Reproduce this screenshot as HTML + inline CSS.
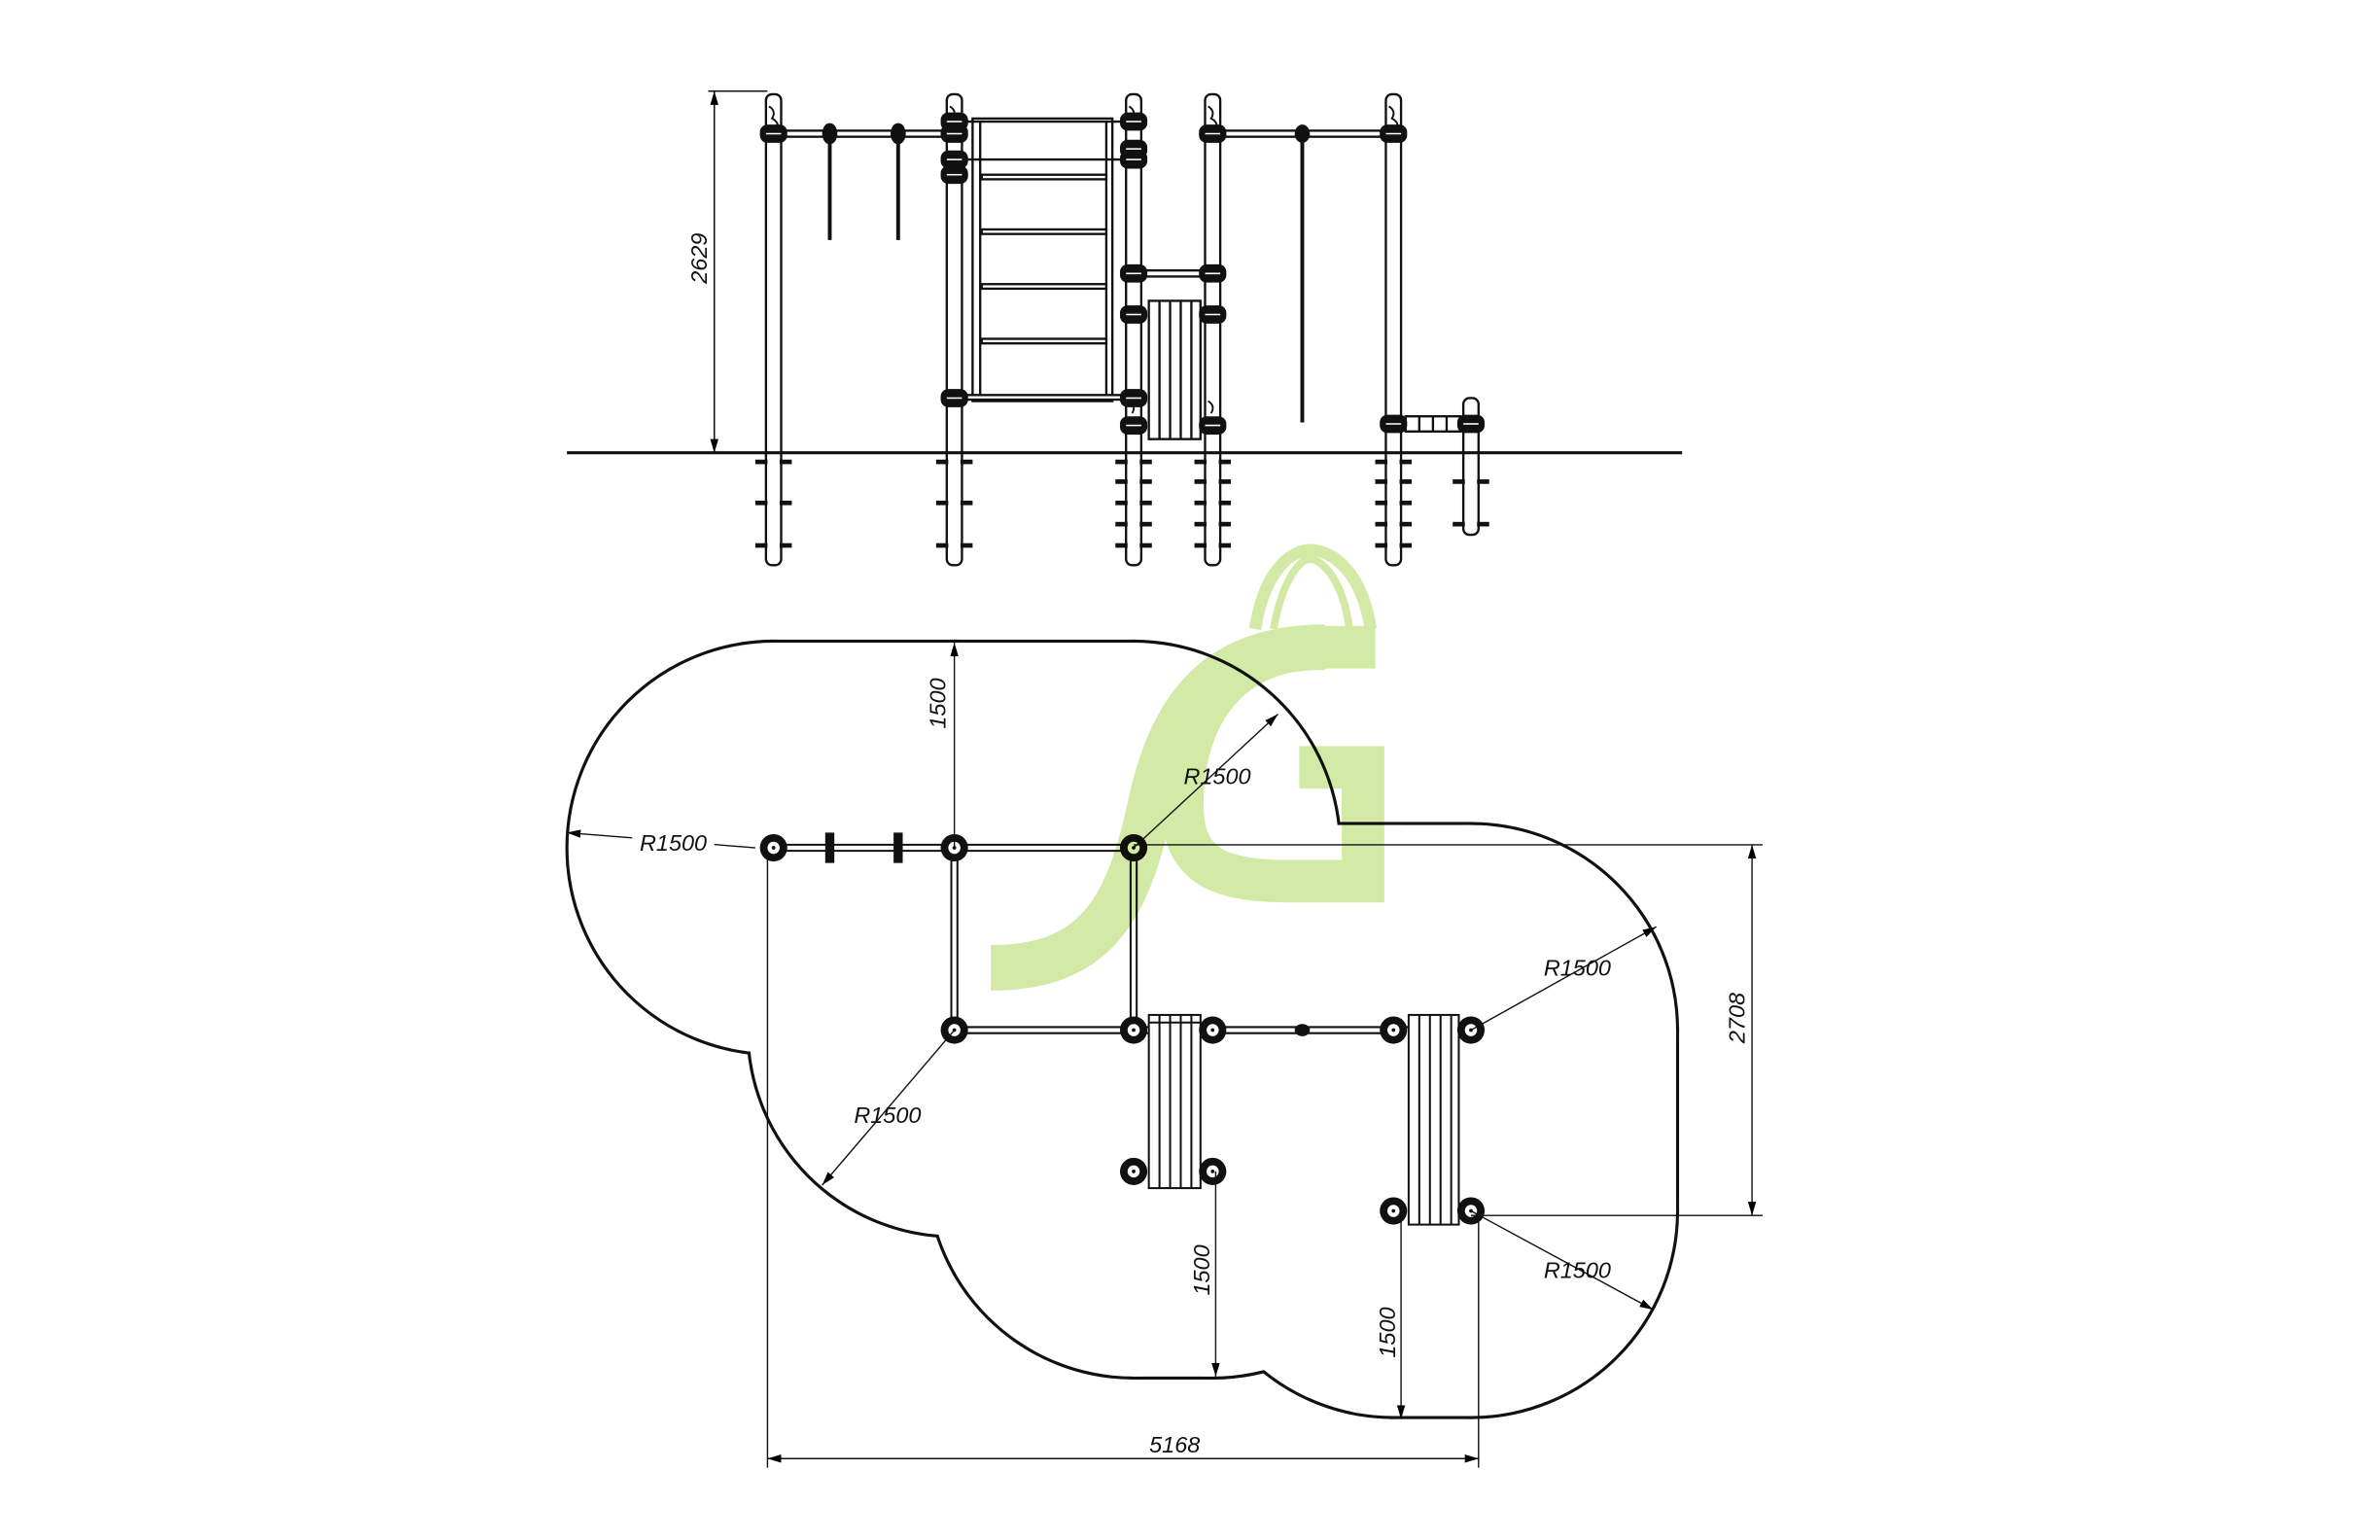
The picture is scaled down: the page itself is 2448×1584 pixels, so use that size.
<!DOCTYPE html>
<html><head><meta charset="utf-8"><style>
html,body{margin:0;padding:0;background:#fff;}
svg{display:block;}
text{font-family:"Liberation Sans",sans-serif;font-style:italic;font-size:15px;fill:#111;}
</style></head><body>
<svg width="2448" height="1584" viewBox="0 0 1556 1007" xmlns="http://www.w3.org/2000/svg">
<defs>
<marker id="ar" viewBox="0 0 10 10" refX="10" refY="5" markerWidth="9" markerHeight="9" orient="auto-start-reverse" markerUnits="userSpaceOnUse"><path d="M0,2 L10,5 L0,8 z" fill="#000"/></marker>
<g id="clamp"><rect x="-9" y="-6" width="18" height="12" rx="5" fill="#111"/><line x1="-5" y1="0" x2="5" y2="0" stroke="#fff" stroke-width="1"/></g>
<g id="pc"><circle r="9" fill="#111"/><circle r="4" fill="#fff"/><circle r="1.2" fill="#111"/></g>
<g id="anch"><line x1="-12" y1="0" x2="-4" y2="0" stroke="#111" stroke-width="3"/><line x1="4" y1="0" x2="12" y2="0" stroke="#111" stroke-width="3"/></g>
</defs>
<rect width="1556" height="1007" fill="#fff"/>
<g transform="scale(0.9935)">

<g stroke="#111" stroke-width="1.5" fill="#fff">
<rect x="640" y="78" width="92" height="186" fill="none"/>
<line x1="645" y1="80" x2="645" y2="262"/><line x1="728" y1="80" x2="728" y2="262"/>
<line x1="634" y1="80" x2="740" y2="80"/><line x1="634" y1="105" x2="740" y2="105"/>
<rect x="646" y="115" width="82" height="3"/><rect x="646" y="151" width="82" height="3"/><rect x="646" y="187" width="82" height="3"/><rect x="646" y="223" width="82" height="3"/><rect x="634" y="260" width="106" height="3"/>
<rect x="509" y="86" width="119" height="4"/><rect x="798" y="86" width="119" height="4"/>
<rect x="746" y="178" width="52" height="4"/>
<rect x="756" y="198" width="34" height="91"/>
<line x1="763" y1="198" x2="763" y2="289"/><line x1="770" y1="198" x2="770" y2="289"/><line x1="777" y1="198" x2="777" y2="289"/><line x1="784" y1="198" x2="784" y2="289"/>
<rect x="925" y="274" width="36" height="10"/><line x1="934" y1="274" x2="934" y2="284"/><line x1="943" y1="274" x2="943" y2="284"/><line x1="952" y1="274" x2="952" y2="284"/>
<rect x="504" y="62" width="10" height="310" rx="4"/>
<rect x="623" y="62" width="10" height="310" rx="4"/>
<rect x="741" y="62" width="10" height="310" rx="4"/>
<rect x="793" y="62" width="10" height="310" rx="4"/>
<rect x="912" y="62" width="10" height="310" rx="4"/>
<rect x="963" y="262" width="10" height="90" rx="4"/>
<line x1="546" y1="90" x2="546" y2="158" stroke-width="2.5"/><line x1="591" y1="90" x2="591" y2="158" stroke-width="2.5"/>
<line x1="857" y1="90" x2="857" y2="278" stroke-width="2.5"/>
</g>
<g fill="none" stroke="#111" stroke-width="1.2">
<path d="M506,70 q5,3 2,8 q4,2 4,6"/><path d="M625,70 q5,3 2,8 q4,2 4,6"/><path d="M743,70 q5,3 2,8 q4,2 4,6"/><path d="M795,70 q5,3 2,8 q4,2 4,6"/><path d="M914,70 q5,3 2,8 q4,2 4,6"/>
<path d="M743,264 q5,3 2,8"/><path d="M795,264 q5,3 2,8"/>
</g>
<use href="#clamp" x="509" y="88"/><use href="#clamp" x="628" y="80"/><use href="#clamp" x="628" y="88"/><use href="#clamp" x="628" y="105"/><use href="#clamp" x="628" y="115"/>
<use href="#clamp" x="746" y="80"/><use href="#clamp" x="746" y="98"/><use href="#clamp" x="746" y="105"/>
<use href="#clamp" x="798" y="88"/><use href="#clamp" x="917" y="88"/>
<use href="#clamp" x="746" y="180"/><use href="#clamp" x="798" y="180"/><use href="#clamp" x="746" y="207"/><use href="#clamp" x="798" y="207"/>
<use href="#clamp" x="628" y="262"/><use href="#clamp" x="746" y="262"/><use href="#clamp" x="746" y="280"/><use href="#clamp" x="798" y="280"/>
<use href="#clamp" x="917" y="279"/><use href="#clamp" x="968" y="279"/>
<ellipse cx="546" cy="88" rx="5" ry="7" fill="#111"/><ellipse cx="591" cy="88" rx="5" ry="7" fill="#111"/><ellipse cx="857" cy="88" rx="5" ry="6" fill="#111"/>
<line x1="373" y1="298" x2="1107" y2="298" stroke="#111" stroke-width="2"/>
<g>
<use href="#anch" x="509" y="304"/><use href="#anch" x="509" y="331"/><use href="#anch" x="509" y="359"/>
<use href="#anch" x="628" y="304"/><use href="#anch" x="628" y="331"/><use href="#anch" x="628" y="359"/>
<use href="#anch" x="746" y="304"/><use href="#anch" x="746" y="331"/><use href="#anch" x="746" y="359"/><use href="#anch" x="746" y="317"/><use href="#anch" x="746" y="345"/>
<use href="#anch" x="798" y="304"/><use href="#anch" x="798" y="317"/><use href="#anch" x="798" y="331"/><use href="#anch" x="798" y="345"/><use href="#anch" x="798" y="359"/>
<use href="#anch" x="917" y="304"/><use href="#anch" x="917" y="317"/><use href="#anch" x="917" y="331"/><use href="#anch" x="917" y="345"/><use href="#anch" x="917" y="359"/>
<use href="#anch" x="968" y="317"/><use href="#anch" x="968" y="345"/>
</g>
<g stroke="#111" stroke-width="1">
<line x1="466" y1="60" x2="505" y2="60"/>
<line x1="470" y1="60" x2="470" y2="298" marker-start="url(#ar)" marker-end="url(#ar)"/>
</g>
<text transform="translate(465,170) rotate(-90)" text-anchor="middle">2629</text>

<g stroke="#111" stroke-width="4" fill="#fff">
<circle cx="509" cy="558" r="135"/><circle cx="628" cy="558" r="135"/><circle cx="746" cy="558" r="135"/>
<circle cx="628" cy="678" r="135"/><circle cx="746" cy="678" r="135"/><circle cx="798" cy="678" r="135"/>
<circle cx="746" cy="771" r="135"/><circle cx="798" cy="771" r="135"/>
<circle cx="917" cy="678" r="135"/><circle cx="968" cy="678" r="135"/><circle cx="917" cy="797" r="135"/><circle cx="968" cy="797" r="135"/>
<rect x="509" y="423" width="237" height="135"/><rect x="746" y="543" width="222" height="135"/>
<rect x="968" y="678" width="135" height="119"/><rect x="917" y="797" width="51" height="135"/><rect x="746" y="771" width="52" height="135"/>
</g>
<g fill="#fff">
<circle cx="509" cy="558" r="135"/><circle cx="628" cy="558" r="135"/><circle cx="746" cy="558" r="135"/>
<circle cx="628" cy="678" r="135"/><circle cx="746" cy="678" r="135"/><circle cx="798" cy="678" r="135"/>
<circle cx="746" cy="771" r="135"/><circle cx="798" cy="771" r="135"/>
<circle cx="917" cy="678" r="135"/><circle cx="968" cy="678" r="135"/><circle cx="917" cy="797" r="135"/><circle cx="968" cy="797" r="135"/>
<rect x="509" y="423" width="237" height="135"/><rect x="746" y="543" width="222" height="135"/>
<rect x="968" y="678" width="135" height="119"/><rect x="917" y="797" width="51" height="135"/><rect x="746" y="771" width="52" height="135"/>
<rect x="628" y="558" width="340" height="239"/>
</g>

<g stroke="#111" stroke-width="1.3" fill="none">
<line x1="509" y1="556" x2="746" y2="556"/><line x1="509" y1="560" x2="746" y2="560"/>
<line x1="626" y1="558" x2="626" y2="678"/><line x1="630" y1="558" x2="630" y2="678"/>
<line x1="744" y1="558" x2="744" y2="678"/><line x1="748" y1="558" x2="748" y2="678"/>
<line x1="628" y1="676" x2="917" y2="676"/><line x1="628" y1="680" x2="917" y2="680"/>
<line x1="917" y1="676" x2="968" y2="676"/>
</g>
<rect x="543" y="548" width="6" height="20" fill="#111"/><rect x="588" y="548" width="6" height="20" fill="#111"/>
<ellipse cx="857" cy="678" rx="5" ry="4" fill="#111"/>
<g stroke="#111" stroke-width="1.3" fill="#fff">
<rect x="756" y="668" width="34" height="114"/>
<line x1="763" y1="668" x2="763" y2="782"/><line x1="770" y1="668" x2="770" y2="782"/><line x1="777" y1="668" x2="777" y2="782"/><line x1="784" y1="668" x2="784" y2="782"/>
<line x1="756" y1="673" x2="790" y2="673"/>
<rect x="927" y="668" width="33" height="138"/>
<line x1="934" y1="668" x2="934" y2="806"/><line x1="941" y1="668" x2="941" y2="806"/><line x1="948" y1="668" x2="948" y2="806"/><line x1="955" y1="668" x2="955" y2="806"/>
</g>
<use href="#pc" x="509" y="558"/><use href="#pc" x="628" y="558"/><use href="#pc" x="746" y="558"/>
<use href="#pc" x="628" y="678"/><use href="#pc" x="746" y="678"/><use href="#pc" x="798" y="678"/>
<use href="#pc" x="746" y="771"/><use href="#pc" x="798" y="771"/>
<use href="#pc" x="917" y="678"/><use href="#pc" x="968" y="678"/><use href="#pc" x="917" y="797"/><use href="#pc" x="968" y="797"/>

<g stroke="#111" stroke-width="0.9" fill="none">
<line x1="628" y1="423" x2="628" y2="558" marker-start="url(#ar)"/>
<line x1="373" y1="548" x2="497" y2="558" marker-start="url(#ar)"/>
<line x1="746" y1="558" x2="841" y2="470" marker-end="url(#ar)"/>
<line x1="968" y1="678" x2="1090" y2="610" marker-end="url(#ar)"/>
<line x1="628" y1="678" x2="541" y2="780" marker-end="url(#ar)"/>
<line x1="968" y1="797" x2="1088" y2="862" marker-end="url(#ar)"/>
<line x1="746" y1="556" x2="1160" y2="556"/><line x1="968" y1="800" x2="1160" y2="800"/>
<line x1="1153" y1="556" x2="1153" y2="800" marker-start="url(#ar)" marker-end="url(#ar)"/>
<line x1="505" y1="562" x2="505" y2="966"/><line x1="973" y1="800" x2="973" y2="966"/>
<line x1="505" y1="960" x2="973" y2="960" marker-start="url(#ar)" marker-end="url(#ar)"/>
<line x1="800" y1="771" x2="800" y2="906" marker-end="url(#ar)"/>
<line x1="922" y1="797" x2="922" y2="934" marker-end="url(#ar)"/>
</g>
<g fill="#fff"><rect x="416" y="545" width="54" height="16"/></g>
<text x="443" y="560" text-anchor="middle">R1500</text>
<text x="801" y="516" text-anchor="middle">R1500</text>
<text x="1038" y="642" text-anchor="middle">R1500</text>
<text x="584" y="739" text-anchor="middle">R1500</text>
<text x="1038" y="841" text-anchor="middle">R1500</text>
<text transform="translate(622,463) rotate(-90)" text-anchor="middle">1500</text>
<text transform="translate(1148,670) rotate(-90)" text-anchor="middle">2708</text>
<text transform="translate(796,836) rotate(-90)" text-anchor="middle">1500</text>
<text transform="translate(918,877) rotate(-90)" text-anchor="middle">1500</text>
<text x="773" y="956" text-anchor="middle">5168</text>

<g style="mix-blend-mode:multiply" fill="none" stroke="#d3eaa6">
<path d="M652,637 C720,637 742,600 757,530 C772,460 805,426 872,426" stroke-width="30"/>
<path d="M905,426 L870,426 C800,428 778,480 778,530 C778,572 805,580 850,580 L897,580 L897,505 L855,505" stroke-width="28"/>
<path d="M826,414 C832,375 850,362 862,362 C876,362 896,375 902,414" stroke-width="8"/>
<path d="M838,414 C844,382 855,368 862,368 C870,368 884,382 888,414" stroke-width="5"/>
</g>
</g>
</svg>
</body></html>
